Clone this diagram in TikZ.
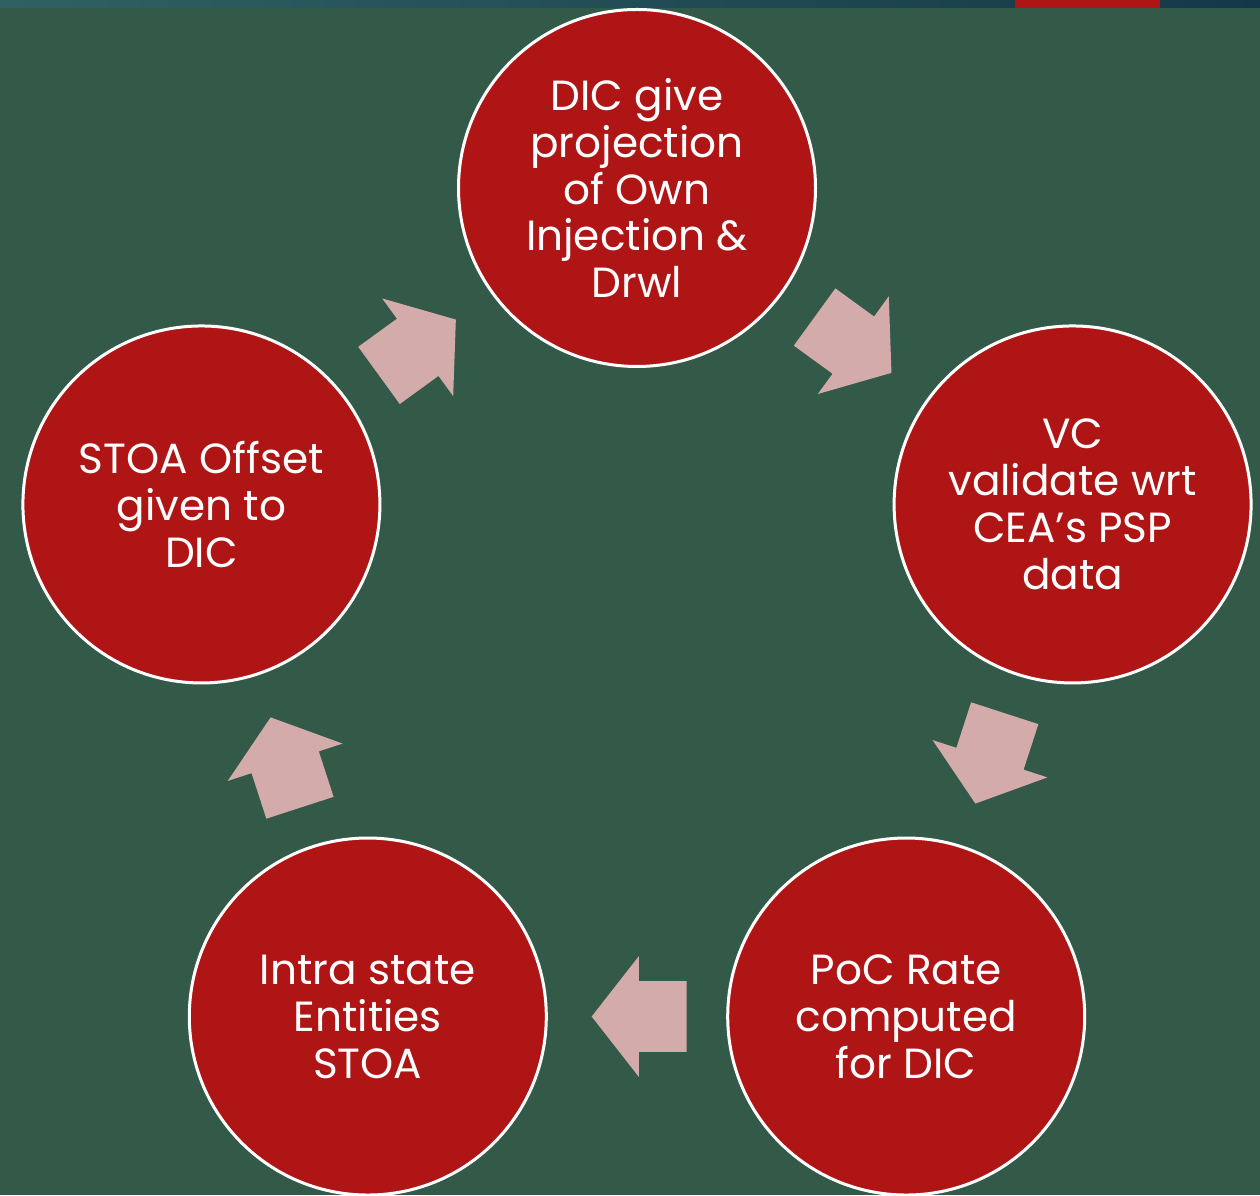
\documentclass[tikz,border=0pt]{standalone}
\usepackage{fontspec}
\setmainfont{Poppins}
\usepackage{tikz}
\usetikzlibrary{positioning}
\usetikzlibrary{calc,shapes.arrows}

\definecolor{slidegreen}{RGB}{51,90,72}
\definecolor{stagered}{RGB}{176,21,21}
\definecolor{arrowpink}{RGB}{212,171,171}
\definecolor{barteal}{RGB}{47,97,99}
\definecolor{barnavy}{RGB}{21,56,72}

\tikzset{
	stagecircle/.style={circle, draw=white, line width=0.06cm, fill=stagered,
		minimum size=7.14cm, inner sep=0pt, align=center, text=white,
		font=\fontsize{24}{26.7}\selectfont},
	cyclearrow/.style={single arrow, fill=arrowpink, draw=none,
		minimum height=1.9cm, inner xsep=0pt, inner ysep=0.7cm,
		single arrow head extend=0.5cm, single arrow tip angle=104,
		sloped, allow upside down, xshift=-0.32cm},
}

\begin{document}
\begin{tikzpicture}

\newlength{\cycleradius}\setlength{\cycleradius}{9.16cm}

	% Proper size --- Bounding box
	\useasboundingbox (0.00cm, 0.00cm) rectangle (25.20cm, 23.90cm);
	\clip (0.00cm, 0.00cm) rectangle (25.20cm, 23.90cm);

	% Slide background
	\fill[slidegreen] (0.00cm, 0.00cm) rectangle (25.20cm, 23.90cm);

	% Top strip of the slide
	\path[left color=barteal,right color=barnavy] (0.00cm, 23.74cm) rectangle (25.20cm, 23.90cm);
	\fill[stagered] (20.30cm, 23.74cm) rectangle (23.20cm, 23.90cm);

	% ------------------------------------------------
	% CENTRE OF THE CYCLE, STAGES IN POLAR COORDINATES
	% ------------------------------------------------
	\coordinate (C) at (12.74cm, 10.98cm);

	\node[stagecircle] (S1) at ($(C)+(90:\cycleradius)$)
		{DIC give\\projection\\of Own\\Injection \&\\Drwl};
	\node[stagecircle] (S2) at ($(C)+(18:\cycleradius)$)
		{VC\\validate wrt\\CEA’s PSP\\data};
	\node[stagecircle] (S3) at ($(C)+(-54:\cycleradius)$)
		{PoC Rate\\computed\\for DIC};
	\node[stagecircle] (S4) at ($(C)+(-126:\cycleradius)$)
		{Intra state\\Entities\\STOA};
	\node[stagecircle] (S5) at ($(C)+(162:\cycleradius)$)
		{STOA Offset\\given to\\DIC};

	% Block arrows half way between the stages
	\path (S1) -- node[cyclearrow] (A12) {} (S2);
	\path (S2) -- node[cyclearrow] (A23) {} (S3);
	\path (S3) -- node[cyclearrow] (A34) {} (S4);
	\path (S4) -- node[cyclearrow] (A45) {} (S5);
	\path (S5) -- node[cyclearrow] (A51) {} (S1);

\end{tikzpicture}
\end{document}
